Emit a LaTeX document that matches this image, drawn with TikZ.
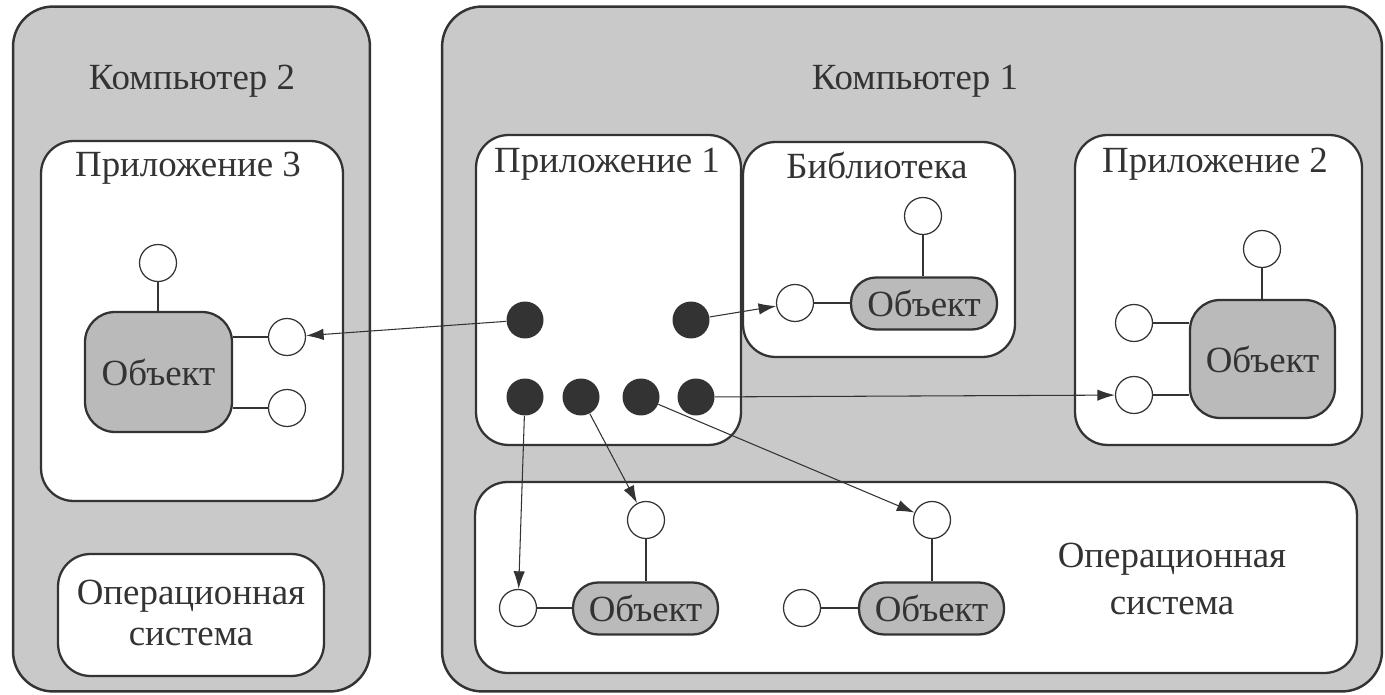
\documentclass[tikz,border=0pt]{standalone}
\usepackage{fontspec}
\setmainfont{Liberation Serif}
\usepackage{tikz}
\usetikzlibrary{arrows.meta}
\definecolor{boxgray}{gray}{0.79}
\definecolor{objgray}{gray}{0.73}
\definecolor{ink}{gray}{0.2}
\tikzstyle{computer}=[draw=ink, fill=boxgray, line width=1.4pt, rounded corners=0.8cm]
\tikzstyle{part}=[draw=ink, fill=white, line width=1.3pt, rounded corners=0.65cm]
\tikzstyle{object}=[draw=ink, fill=objgray, line width=1.3pt, rounded corners=0.6cm, text=ink, inner sep=0pt]
\tikzstyle{pill}=[object, rounded corners=0.5cm, minimum height=1.04cm]
\tikzstyle{port}=[circle, draw=ink, fill=white, line width=0.7pt, minimum size=0.74cm, inner sep=0pt]
\tikzstyle{hole}=[circle, fill=ink, minimum size=0.74cm, inner sep=0pt]
\tikzstyle{caption}=[text=ink, align=center, inner sep=0pt]
\tikzstyle{wire}=[draw=ink, line width=0.6pt]
\tikzstyle{call}=[wire, -{Latex[length=10pt, width=6.5pt]}]

\begin{document}
\begin{tikzpicture}[x=0.02cm, y=-0.02cm, font=\fontsize{21}{23}\selectfont]
	\useasboundingbox (0,0) rectangle (1385,695);
	\node[computer, minimum width=7.14cm, minimum height=13.7cm] (comp2) at (191.5,349) {};
	\node[computer, minimum width=18.8cm, minimum height=13.7cm] (comp1) at (912,349) {};
	\node[caption, anchor=base] (comp2name) at (192,90) {Компьютер 2};
	\node[caption, anchor=base] (comp1name) at (915,90) {Компьютер 1};

	\node[part, minimum width=6.04cm, minimum height=7.2cm] (app3) at (192,321) {};
	\node[part, minimum width=5.32cm, minimum height=2.44cm] (os2) at (191,615) {};
	\node[part, minimum width=5.3cm, minimum height=6.2cm] (app1) at (608.5,290) {};
	\node[part, minimum width=5.44cm, minimum height=4.3cm] (lib) at (879,249.5) {};
	\node[part, minimum width=5.74cm, minimum height=6.2cm] (app2) at (1218.5,290) {};
	\node[part, minimum width=17.64cm, minimum height=3.82cm] (os1) at (916,577.5) {};

	\node[caption, anchor=base] (app3name) at (188,177) {Приложение 3};
	\node[caption, anchor=base] (app1name) at (607,173) {Приложение 1};
	\node[caption, anchor=base] (libname) at (877,179) {Библиотека};
	\node[caption, anchor=base] (app2name) at (1215,173) {Приложение 2};
	\node[caption] (os2name) at (191,613) {Операционная\\система};
	\node[caption] (os1name) at (1172,579) {Операционная\\[4pt]система};

	\node[object, minimum width=2.94cm, minimum height=2.4cm] (obj3) at (158.5,372) {Объект};
	\node[object, minimum width=2.9cm, minimum height=2.36cm] (obj2) at (1262.5,359) {Объект};
	\node[pill, minimum width=2.92cm] (objl) at (924,303.5) {Объект};
	\node[pill, minimum width=2.9cm] (objo) at (645.5,608.5) {Объект};
	\node[pill, minimum width=2.9cm] (obju) at (931.5,608.5) {Объект};

	\foreach \n/\x/\y in {3t/158/263, 3a/287/337, 3b/287/408, lt/923/216, la/795/303, 2t/1262/249, 2a/1134/323, 2b/1134/395, ot/646/520, oa/518/608, ut/932/520, ua/802/608}
		\node[port] (port\n) at (\x,\y) {};
	\foreach \n/\x/\y in {1/525/320, 2/691/320, 3/525/397, 4/581/397, 5/641/397, 6/696/397}
		\node[hole] (dot\n) at (\x,\y) {};

	\draw[wire] (port3t) -- (port3t |- obj3.north);
	\draw[wire] (port3a) -- (port3a -| obj3.east);
	\draw[wire] (port3b) -- (port3b -| obj3.east);
	\draw[wire] (portlt) -- (portlt |- objl.north);
	\draw[wire] (portla) -- (portla -| objl.west);
	\draw[wire] (port2t) -- (port2t |- obj2.north);
	\draw[wire] (port2a) -- (port2a -| obj2.west);
	\draw[wire] (port2b) -- (port2b -| obj2.west);
	\draw[wire] (portot) -- (portot |- objo.north);
	\draw[wire] (portoa) -- (portoa -| objo.west);
	\draw[wire] (portut) -- (portut |- obju.north);
	\draw[wire] (portua) -- (portua -| obju.west);

	\foreach \d/\p in {1/3a, 2/la, 6/2b, 3/oa, 4/ot, 5/ut}
		\draw[call] (dot\d) -- (port\p);
\end{tikzpicture}
\end{document}
